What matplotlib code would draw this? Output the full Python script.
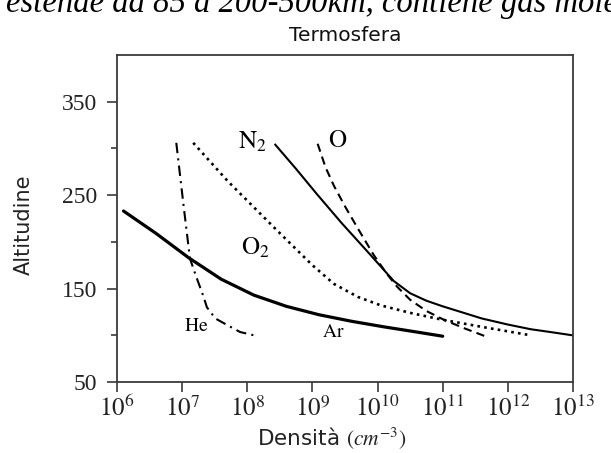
import numpy as np
import matplotlib
matplotlib.use("Agg")
import matplotlib.pyplot as plt

plt.rcParams['mathtext.fontset'] = 'stix'

# log10(density) and altitude
ar_log = [6.10, 6.60, 7.10, 7.60, 8.10, 8.60, 9.10, 9.60, 10.10, 10.60, 11.00]
ar_alt = [233, 209, 183, 160, 143, 131, 122, 115, 109, 103.5, 99]

he_log = [6.91, 7.02, 7.12, 7.22, 7.33, 7.38, 7.51, 7.69, 7.89, 8.10]
he_alt = [306, 240, 182, 162, 141, 130, 118, 111, 103.5, 100]

o2_log = [7.17, 7.70, 8.46, 9.00, 9.33, 9.70, 10.05, 10.50, 10.97, 11.60, 12.35]
o2_alt = [306, 265, 212, 175, 155, 141, 132, 124, 117, 109, 100]

n2_log = [8.43, 8.75, 9.07, 9.45, 9.84, 10.25, 10.50, 10.75, 11.00, 11.30, 11.60, 12.00, 12.35, 12.70, 12.99]
n2_alt = [304, 278, 251, 220, 190, 158, 145, 137, 131, 124.5, 118, 111.5, 106.5, 103, 100]

o_log = [9.08, 9.20, 9.33, 9.50, 9.70, 9.94, 10.15, 10.30, 10.50, 10.75, 11.02, 11.35, 11.69]
o_alt = [305, 280, 260, 238, 214, 186, 165, 152, 138, 126, 116.5, 107, 98]

x_exponents = [6, 7, 8, 9, 10, 11, 12, 13]
y_major = [50, 150, 250, 350]
y_minor = [100, 200, 300]

labels = {
    "N2": (r"$\mathrm{N}_2$", 8.08, 307),
    "O": (r"$\mathrm{O}$", 9.38, 309),
    "O2": (r"$\mathrm{O}_2$", 8.12, 194),
    "He": (r"$\mathrm{He}$", 7.22, 110),
    "Ar": (r"$\mathrm{Ar}$", 9.32, 104),
}

fig = plt.figure(figsize=(6.11, 4.53), dpi=100)
ax = fig.add_axes([117/611, 1-382/453, 456/611, 327/453])

def p(lg):
    return np.power(10.0, np.array(lg))

ax.plot(p(ar_log), ar_alt, color='black', lw=2.3, solid_capstyle='round')
ax.plot(p(he_log), he_alt, color='black', lw=1.5, linestyle=(0, (5, 2.5, 1, 2.5)))
ax.plot(p(o2_log), o2_alt, color='black', lw=1.9, linestyle=(0, (1, 1.6)))
ax.plot(p(n2_log), n2_alt, color='black', lw=1.5)
ax.plot(p(o_log), o_alt, color='black', lw=1.5, linestyle=(0, (4, 2.5)))

for key, (txt, lx, ly) in labels.items():
    fs = 14 if key in ("He", "Ar") else 18
    ax.text(10**lx, ly, txt, ha='center', va='center', fontsize=fs, color='black')

ax.set_xscale('log')
ax.set_xlim(1e6, 1e13)
ax.set_ylim(50, 400)
ax.set_xticks([10.0**e for e in x_exponents])
ax.set_xticklabels([r"$10^{%d}$" % e for e in x_exponents], fontsize=18)
ax.xaxis.set_minor_locator(matplotlib.ticker.NullLocator())
ax.set_yticks(y_major)
ax.set_yticklabels([str(v) for v in y_major], fontsize=17, family='Liberation Serif')
ax.set_yticks(y_minor, minor=True)

for s in ax.spines.values():
    s.set_color('#3a3a3a')
    s.set_linewidth(1.3)
ax.tick_params(axis='both', which='major', direction='out', length=7, width=1.2,
               color='#3a3a3a', labelcolor='#222222')
ax.tick_params(axis='y', which='minor', direction='out', length=4.5, width=1.2, color='#3a3a3a')
ax.tick_params(axis='y', which='major', pad=7)
ax.tick_params(axis='x', which='major', pad=3)

ax.set_title("Termosfera", fontsize=14.5, family='DejaVu Sans', pad=10, color='#111111')
ax.set_ylabel("Altitudine", fontsize=15, family='DejaVu Sans', color='#222222')
ax.yaxis.set_label_coords(-0.182, 0.48)
ax.set_xlabel("Densità " + r"$(\mathit{cm}^{-3})$", fontsize=15.5, family='DejaVu Sans', color='#222222')
ax.xaxis.set_label_coords(0.472, -0.132)

fig.text(0.01, 1 - 12/453, "estende da 85 a 200-500km, contiene gas molecolari",
         fontsize=23.5, style='italic', family='Liberation Serif', va='baseline', ha='left')

fig.savefig("out.png", dpi=100)
